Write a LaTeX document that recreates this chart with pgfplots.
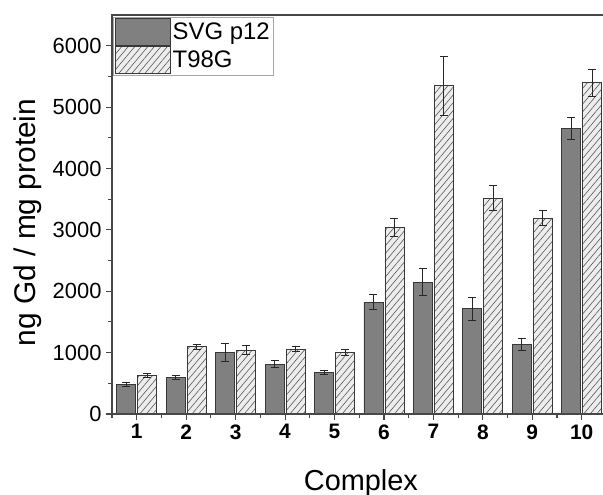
\documentclass[border=0pt]{standalone}
\usepackage{pgfplots}
\pgfplotsset{compat=1.18}
\usepackage{pgfplotstable}
\usepackage{fontspec}
\setmainfont{Liberation Sans}
\usetikzlibrary{patterns.meta}
\definecolor{darkbar}{gray}{0.50}
\definecolor{baredge}{gray}{0.22}
\definecolor{hatchbg}{gray}{0.93}
\definecolor{hatchline}{gray}{0.35}
\definecolor{axisgray}{gray}{0.28}

\pgfplotsset{boxlegend/.style={legend image code/.code={\draw[##1] (0bp,-13.5bp) rectangle (55bp,13.5bp);}}}

\pgfplotstableread{
x y e
1 484 33
2 591 35
3 1005 141
4 809 57
5 679 38
6 1824 128
7 2145 218
8 1715 186
9 1129 96
10 4653 180
}\svg

\pgfplotstableread{
x y e
1 635 33
2 1096 43
3 1042 70
4 1054 40
5 1005 50
6 3041 148
7 5347 478
8 3513 205
9 3192 128
10 5396 221
}\tng

\begin{document}
\begin{tikzpicture}
\begin{axis}[
  scale only axis, width=491bp, height=399bp,
  at={(0,0)}, anchor=south west,
  xmin=0.5, xmax=10.43, ymin=0, ymax=6500,
  axis x line*=bottom, axis y line*=left,
  xtick pos=left, ytick pos=left,
  ybar=2bp, bar width=19bp,
  xtick={1,...,10}, minor xtick={0.5,1.5,...,9.5},
  ytick={0,1000,...,6000}, minor ytick={500,1500,...,5500},
  tick align=outside,
  major tick length=6bp, minor tick length=3.5bp,
  axis line style={draw=none},
  tick style={draw=axisgray, line width=1.1bp},
  scaled y ticks=false,
  /pgf/number format/1000 sep={},
  /pgf/number format/assume math mode=true,
  yticklabel style={font=\fontsize{22}{26}\selectfont},
  xticklabel style={font=\fontsize{21}{25}\selectfont\bfseries},
  yticklabel shift=1bp, xticklabel shift=1bp,
  xlabel={Complex},
  ylabel={ng Gd / mg protein},
  xlabel style={font=\fontsize{29}{34}\selectfont, at={(axis description cs:0.507,-0.1905)}, anchor=base},
  ylabel style={font=\fontsize{30}{35}\selectfont, at={(axis description cs:-0.1548,0.48)}, anchor=base},
  legend style={at={(axis description cs:0,1)}, anchor=north west, xshift=1bp, yshift=-2bp,
    draw=gray!70, line width=0.8bp, font=\fontsize{24}{28}\selectfont,
    inner xsep=2bp, inner ysep=1bp, row sep=0bp,
    nodes={inner sep=1.5bp}},
  legend cell align=left,
  clip=false,
]
\addplot[fill=darkbar, draw=baredge, line width=0.8bp, boxlegend,
  error bars/.cd, y dir=both, y explicit,
  error bar style={line width=0.9bp, draw=black!85, solid},
  error mark options={rotate=90, mark size=4bp, line width=0.9bp, draw=black!85}]
  table[x=x, y=y, y error=e] {\svg};
\addlegendentry{SVG p12}
\addplot[fill=hatchbg, draw=baredge, line width=0.8bp, boxlegend,
  postaction={pattern={Lines[angle=50,distance=5bp,line width=0.6bp]}, pattern color=hatchline},
  error bars/.cd, y dir=both, y explicit,
  error bar style={line width=0.9bp, draw=black!85, solid},
  error mark options={rotate=90, mark size=4bp, line width=0.9bp, draw=black!85}]
  table[x=x, y=y, y error=e] {\tng};
\addlegendentry{T98G}
\draw[axisgray, line width=1.3bp] (rel axis cs:1,1) -- (rel axis cs:0,1) -- (rel axis cs:0,0) -- (rel axis cs:1,0);
\end{axis}
\pgfresetboundingbox
\useasboundingbox (-112bp,-81bp) rectangle (491bp,414bp);
\end{tikzpicture}
\end{document}
